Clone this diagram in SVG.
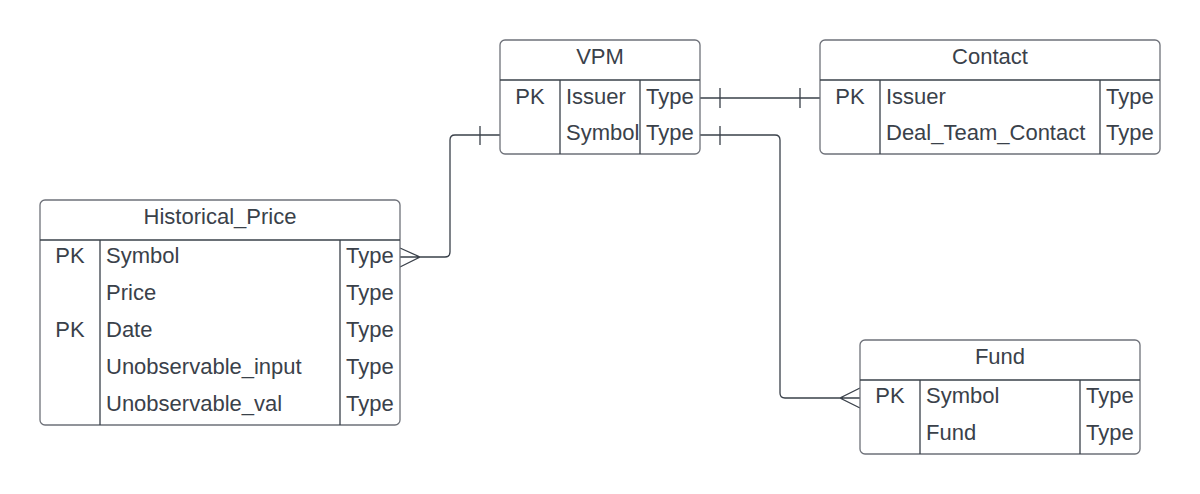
<svg xmlns="http://www.w3.org/2000/svg" width="1200" height="494" viewBox="0 0 1200 494">
<style>
.box{fill:#ffffff;stroke:#6e7179;stroke-width:1.3}
.div{stroke:#3a414a;stroke-width:1.3;fill:none}
.t{font-family:"Liberation Sans",Arial,sans-serif;font-size:22px;fill:#3a414a}
.c{text-anchor:middle}
.conn{fill:none;stroke:#3a414a;stroke-width:1.3}
</style>
<rect width="1200" height="494" fill="#ffffff"/>
<g id="connectors">
<path class="conn" d="M700,98 H820 M720,88 V108 M800,88 V108"/>
<path class="conn" d="M500,135 H455 Q450,135 450,140 V252 Q450,257 445,257 H400 M480,126 V145 M400,248 L420,257 L400,267"/>
<path class="conn" d="M700,135 H775 Q780,135 780,140 V393 Q780,398 785,398 H860 M720,126 V145 M860,388 L840,398 L860,408"/>
</g>
<g id="VPM">
<rect class="box" x="500" y="40" width="200" height="114" rx="5"/>
<path class="div" d="M500,80 H700 M560,80 V154 M640,80 V154"/>
<text class="t c" x="600" y="64">VPM</text>
<text class="t c" x="530" y="104">PK</text>
<text class="t" x="566" y="104">Issuer</text>
<text class="t" x="646" y="104">Type</text>
<text class="t" x="566" y="140">Symbol</text>
<text class="t" x="646" y="140">Type</text>
</g>
<g id="Contact">
<rect class="box" x="820" y="40" width="340" height="114" rx="5"/>
<path class="div" d="M820,80 H1160 M880,80 V154 M1100,80 V154"/>
<text class="t c" x="990" y="64">Contact</text>
<text class="t c" x="850" y="104">PK</text>
<text class="t" x="886" y="104">Issuer</text>
<text class="t" x="1106" y="104">Type</text>
<text class="t" x="886" y="140">Deal_Team_Contact</text>
<text class="t" x="1106" y="140">Type</text>
</g>
<g id="Historical_Price">
<rect class="box" x="40" y="200" width="360" height="225" rx="5"/>
<path class="div" d="M40,240 H400 M100,240 V425 M340,240 V425"/>
<text class="t c" x="220" y="224">Historical_Price</text>
<text class="t c" x="70" y="263">PK</text>
<text class="t" x="106" y="263">Symbol</text>
<text class="t" x="346" y="263">Type</text>
<text class="t" x="106" y="300">Price</text>
<text class="t" x="346" y="300">Type</text>
<text class="t c" x="70" y="337">PK</text>
<text class="t" x="106" y="337">Date</text>
<text class="t" x="346" y="337">Type</text>
<text class="t" x="106" y="374">Unobservable_input</text>
<text class="t" x="346" y="374">Type</text>
<text class="t" x="106" y="411">Unobservable_val</text>
<text class="t" x="346" y="411">Type</text>
</g>
<g id="Fund">
<rect class="box" x="860" y="340" width="280" height="114" rx="5"/>
<path class="div" d="M860,380 H1140 M920,380 V454 M1080,380 V454"/>
<text class="t c" x="1000" y="364">Fund</text>
<text class="t c" x="890" y="403">PK</text>
<text class="t" x="926" y="403">Symbol</text>
<text class="t" x="1086" y="403">Type</text>
<text class="t" x="926" y="440">Fund</text>
<text class="t" x="1086" y="440">Type</text>
</g>
</svg>
